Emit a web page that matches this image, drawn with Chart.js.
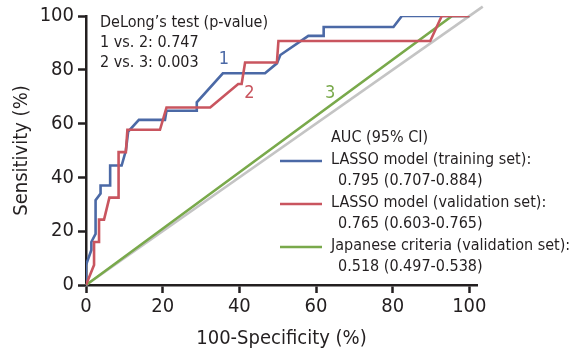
<!DOCTYPE html>
<html>
<head>
<meta charset="utf-8">
<script src="https://cdn.jsdelivr.net/npm/chart.js@4"></script>
<style>
  html, body { margin: 0; padding: 0; background: #fff; }
  #wrap { width: 577px; height: 355px; }
</style>
</head>
<body>
<div id="wrap"><canvas id="roc" width="577" height="355"></canvas></div>
<script>
// ROC points: [100-specificity, sensitivity]
const trainingROC = [[0,0],[0,7.4],[1.4,13],[1.4,16],[2.5,19],[2.5,31.5],[3.8,34],[3.8,37],[6.3,37],[6.3,44.4],
  [9.3,44.4],[10.4,50],[11,57],[13.8,61.4],[20.6,61.4],[21,64.8],[28.9,64.8],[28.9,67.9],[35.7,78.7],[46.7,78.7],
  [49.8,82.4],[50.7,85.5],[58,92.6],[62,92.6],[62,95.9],[80.2,95.9],[82.4,100],[100,100]];
const validationROC = [[0,0],[2.1,7.4],[2.1,16],[3.4,16],[3.4,24.3],[4.7,24.3],[6.1,32.5],[8.5,32.5],[8.5,49.4],
  [10.4,49.4],[10.8,57.7],[19.3,57.7],[21,66],[32.4,66],[39.7,74.7],[40.6,74.7],[41.5,82.7],[49.8,82.7],
  [50.2,90.7],[89.8,90.7],[92.8,100],[100,100]];
const japaneseROC = [[0,0],[95.5,100],[100,100]];
const chanceLine = [[0,0],[103.5,103.5]];

const xTicks = [0, 20, 40, 60, 80, 100];
const yTicks = [0, 20, 40, 60, 80, 100];

const delongLines = ['DeLong\u2019s test (p-value)', '1 vs. 2: 0.747', '2 vs. 3: 0.003'];
const legendTitle = 'AUC (95% CI)';
const seriesNames = ['LASSO model (training set):', 'LASSO model (validation set):', 'Japanese criteria (validation set):'];
const seriesAUC = ['0.795 (0.707-0.884)', '0.765 (0.603-0.765)', '0.518 (0.497-0.538)'];
const curveTags = ['1', '2', '3'];
const tagPositions = [[36, 83.8], [42.6, 71.2], [63.7, 71.2]];

const BLUE = '#4b69a6';
const RED = '#c9555f';
const GREEN = '#79a94b';
const GRAY = '#c4c4c4';
const INK = '#231f20';
const FONT = "'Liberation Sans Narrow', 'DejaVu Sans Condensed', 'Roboto Condensed', sans-serif";

function toXY(arr) {
  return arr.map(p => ({ x: p[0], y: p[1] }));
}

// annotation text + legend drawn on canvas
const annotations = {
  id: 'annotations',
  afterDatasetsDraw(chart) {
    const ctx = chart.ctx;
    const xs = chart.scales.x, ys = chart.scales.y;
    ctx.save();
    ctx.fillStyle = INK;
    ctx.textBaseline = 'middle';
    ctx.textAlign = 'left';
    ctx.font = '16px ' + FONT;
    delongLines.forEach((t, i) => ctx.fillText(t, 100, 23 + i * 20));

    // curve numbers
    const tagColors = [BLUE, RED, GREEN];
    ctx.font = '18px ' + FONT;
    ctx.textAlign = 'center';
    curveTags.forEach((t, i) => {
      ctx.fillStyle = tagColors[i];
      ctx.fillText(t, xs.getPixelForValue(tagPositions[i][0]), ys.getPixelForValue(tagPositions[i][1]));
    });

    // legend
    ctx.textAlign = 'left';
    ctx.font = '16px ' + FONT;
    ctx.fillStyle = INK;
    ctx.fillText(legendTitle, 331, 138);
    const rowY = [160, 203, 246];
    seriesNames.forEach((name, i) => {
      ctx.strokeStyle = tagColors[i];
      ctx.lineWidth = 2.5;
      ctx.beginPath();
      ctx.moveTo(280, rowY[i] + 1);
      ctx.lineTo(322, rowY[i] + 1);
      ctx.stroke();
      ctx.fillStyle = INK;
      ctx.fillText(name, 331, rowY[i]);
      ctx.fillText(seriesAUC[i], 338, rowY[i] + 21);
    });
    ctx.restore();
  }
};

const ctx = document.getElementById('roc').getContext('2d');
new Chart(ctx, {
  type: 'scatter',
  data: {
    datasets: [
      { label: 'LASSO model (validation set)', data: toXY(validationROC), borderColor: RED, order: 0 },
      { label: 'LASSO model (training set)', data: toXY(trainingROC), borderColor: BLUE, order: 1 },
      { label: 'Japanese criteria (validation set)', data: toXY(japaneseROC), borderColor: GREEN, order: 2 },
      { label: 'Reference', data: toXY(chanceLine), borderColor: GRAY, order: 3, clip: false }
    ].map(d => Object.assign({ showLine: true, pointRadius: 0, borderWidth: 2.6, fill: false, tension: 0 }, d))
  },
  options: {
    responsive: false,
    animation: false,
    events: [],
    layout: { padding: { left: 0, top: 16, right: 100, bottom: 0 } },
    plugins: { legend: { display: false }, tooltip: { enabled: false } },
    scales: {
      x: {
        type: 'linear',
        min: 0,
        max: 102,
        afterFit: s => { s.height = 70; },
        afterBuildTicks: s => { s.ticks = xTicks.map(v => ({ value: v })); },
        ticks: { color: INK, font: { family: FONT, size: 20 }, padding: 2, maxRotation: 0 },
        grid: { drawOnChartArea: false, drawTicks: true, tickLength: 8, tickWidth: 2.5, tickColor: INK },
        border: { display: true, color: INK, width: 2.5 },
        title: { display: true, text: '100-Specificity (%)', color: INK, font: { family: FONT, size: 20 }, padding: 4 }
      },
      y: {
        type: 'linear',
        min: 0,
        max: 100,
        afterFit: s => { s.width = 86; },
        afterBuildTicks: s => { s.ticks = yTicks.map(v => ({ value: v })); },
        ticks: { color: INK, font: { family: FONT, size: 20 }, padding: 4 },
        grid: { drawOnChartArea: false, drawTicks: true, tickLength: 8, tickWidth: 2.5, tickColor: INK },
        border: { display: true, color: INK, width: 2.5 },
        title: { display: true, text: 'Sensitivity (%)', color: INK, font: { family: FONT, size: 20 }, padding: 10 }
      }
    }
  },
  plugins: [annotations]
});
</script>
</body>
</html>
